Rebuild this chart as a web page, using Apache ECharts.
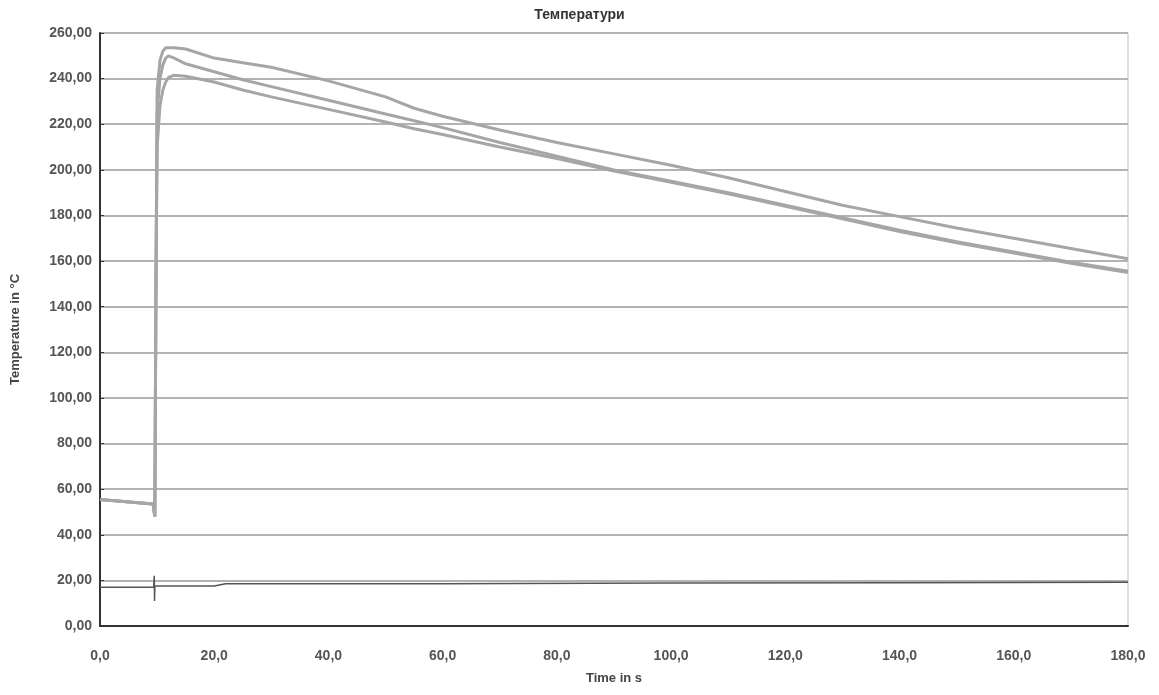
<!DOCTYPE html>
<html>
<head>
<meta charset="utf-8">
<script src="https://cdn.jsdelivr.net/npm/echarts@6/dist/echarts.min.js"></script>
<style>
  html, body { margin: 0; padding: 0; background: #fff; }
  #main { width: 1159px; height: 695px; }
</style>
</head>
<body>
<div id="main"></div>
<script>
// time samples shared by the three thermocouple curves (s)
var times = [0, 9.3, 9.6, 9.8, 10, 10.5, 11, 11.5, 12, 13, 15, 20, 25, 30, 40, 50, 55, 60, 70, 80, 90, 100, 110, 120, 130, 140, 150, 160, 170, 180];
var temp1 = [55.5, 53.5, 48, 150, 235, 248, 252, 253.5, 253.5, 253.5, 253, 249, 247, 245, 239, 232, 227, 223.5, 217.5, 212, 207, 202, 196.5, 190.5, 184.5, 179.5, 174.5, 170, 165.5, 161];
var temp2 = [55.5, 53.5, 48, 150, 225, 240, 246, 249, 250, 249, 246.5, 243, 239.5, 236.5, 230.5, 224.5, 221.5, 218.5, 212, 206, 200, 195, 190, 184.5, 179, 173.5, 168.5, 164, 159.5, 155.5];
var temp3 = [55.5, 53.5, 48, 150, 210, 228, 235, 238.5, 240.5, 241.5, 241, 238.5, 235, 232, 226.5, 221, 218, 215.5, 210, 205, 199.5, 194.5, 189.5, 184, 178.5, 173, 168, 163.5, 159, 155];

// ambient line
var ambTimes = [0, 9.4, 9.5, 9.55, 9.6, 20, 22, 60, 100, 140, 180];
var ambTemp = [17, 17, 22, 11, 17.5, 17.5, 18.5, 18.5, 18.8, 19, 19.2];

function pairs(xs, ys) {
    return xs.map(function (x, i) { return [x, ys[i]]; });
}

var chartDom = document.getElementById('main');
var myChart = echarts.init(chartDom);
var option;

var curveStyle = { color: '#a6a6a6', width: 3 };

option = {
    animation: false,
    backgroundColor: '#fff',
    textStyle: { fontFamily: 'Liberation Sans, Arial, sans-serif' },
    title: {
        text: 'Температури',
        left: 'center',
        top: 3,
        textStyle: { fontSize: 14, fontWeight: 'bold', color: '#333' }
    },
    grid: {
        left: 100,
        right: 31,
        top: 33,
        bottom: 69,
        show: true,
        borderColor: '#bdbdbd',
        borderWidth: 1
    },
    xAxis: {
        type: 'value',
        min: 0,
        max: 180,
        interval: 20,
        name: 'Time in s',
        nameLocation: 'middle',
        nameGap: 46,
        nameTextStyle: { fontSize: 13, fontWeight: 'bold', color: '#444' },
        axisLine: { lineStyle: { color: '#333', width: 2 } },
        axisTick: { show: false },
        splitLine: { show: false },
        axisLabel: {
            margin: 23,
            fontSize: 14,
            fontWeight: 'bold',
            color: '#555',
            formatter: function (v) { return v.toFixed(1).replace('.', ','); }
        }
    },
    yAxis: {
        type: 'value',
        min: 0,
        max: 260,
        interval: 20,
        name: 'Temperature in °C',
        nameLocation: 'middle',
        nameGap: 78,
        nameTextStyle: { fontSize: 13, fontWeight: 'bold', color: '#444' },
        axisLine: { show: true, lineStyle: { color: '#333', width: 2 } },
        axisTick: { show: true, length: 4, inside: true, lineStyle: { color: '#333' } },
        splitLine: { lineStyle: { color: '#b3b3b3', width: 2 } },
        axisLabel: {
            margin: 8,
            fontSize: 14,
            fontWeight: 'bold',
            color: '#555',
            formatter: function (v) { return v.toFixed(2).replace('.', ','); }
        }
    },
    series: [
        {
            name: 'T1',
            type: 'line',
            showSymbol: false,
            data: pairs(times, temp1),
            lineStyle: curveStyle
        },
        {
            name: 'T2',
            type: 'line',
            showSymbol: false,
            data: pairs(times, temp2),
            lineStyle: curveStyle
        },
        {
            name: 'T3',
            type: 'line',
            showSymbol: false,
            data: pairs(times, temp3),
            lineStyle: curveStyle
        },
        {
            name: 'Ambient',
            type: 'line',
            showSymbol: false,
            data: pairs(ambTimes, ambTemp),
            lineStyle: { color: '#555', width: 1.5 }
        }
    ]
};

option && myChart.setOption(option);
</script>
</body>
</html>
